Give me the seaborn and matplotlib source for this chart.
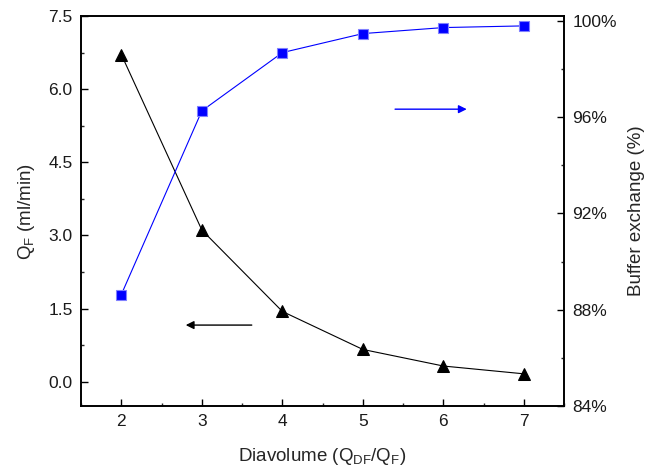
import matplotlib
matplotlib.use("Agg")
import matplotlib.pyplot as plt
import numpy as np
import pandas as pd
import seaborn as sns
from matplotlib.ticker import MultipleLocator, FormatStrFormatter, PercentFormatter

diavolume = [2, 3, 4, 5, 6, 7]
qf_values = [6.71, 3.11, 1.44, 0.66, 0.32, 0.16]
buffer_exchange = [88.63, 96.26, 98.68, 99.47, 99.72, 99.79]

df = pd.DataFrame({'diavolume': diavolume, 'qf': qf_values,
                   'exchange': buffer_exchange})

sns.set_style('ticks')
plt.rcParams['font.family'] = ['Liberation Sans', 'DejaVu Sans']
plt.rcParams['mathtext.fontset'] = 'custom'
plt.rcParams['mathtext.rm'] = 'Liberation Sans'
plt.rcParams['mathtext.default'] = 'rm'

fig = plt.figure(figsize=(6.7, 4.71), dpi=100)
ax = fig.add_axes([0.121, 0.138, 0.721, 0.828])
ax2 = ax.twinx()

sns.lineplot(data=df, x='diavolume', y='qf', ax=ax, color='black', lw=0.8,
             marker='^', markersize=9, markeredgecolor='black')
sns.lineplot(data=df, x='diavolume', y='exchange', ax=ax2, color='#0000ff',
             lw=0.8, marker='s', markersize=6.5, markeredgecolor='#8080ff',
             markeredgewidth=0.8)

ax.set_xlim(1.5, 7.5)
ax.set_ylim(-0.5, 7.5)
ax2.set_ylim(84, 100.2)

ax.xaxis.set_major_locator(MultipleLocator(1))
ax.xaxis.set_minor_locator(MultipleLocator(0.5))
ax.yaxis.set_major_locator(MultipleLocator(1.5))
ax.yaxis.set_minor_locator(MultipleLocator(0.75))
ax.yaxis.set_major_formatter(FormatStrFormatter('%.1f'))
ax2.yaxis.set_major_locator(MultipleLocator(4))
ax2.yaxis.set_minor_locator(MultipleLocator(2))
ax2.yaxis.set_major_formatter(PercentFormatter(xmax=100, decimals=0))

for a in (ax, ax2):
    a.tick_params(which='major', direction='in', length=5, width=1,
                  labelsize=12.5, color='black', labelcolor='#1a1a1a', pad=6)
    a.tick_params(which='minor', direction='in', length=2.5, width=1)
    for s in a.spines.values():
        s.set_linewidth(1.2)
        s.set_color('black')
ax.tick_params(axis='x', which='both', top=False)
ax2.tick_params(axis='y', which='both', left=False)

ax.set_xlabel('Diavolume (Q$_{DF}$/Q$_{F}$)', fontsize=13.5, labelpad=12)
ax.set_ylabel('Q$_{F}$ (ml/min)', fontsize=13.5, labelpad=8)
ax2.set_ylabel('Buffer exchange (%)', fontsize=13.5, labelpad=8)

ax.annotate('', xy=(2.8, 1.16), xytext=(3.62, 1.16),
            arrowprops=dict(arrowstyle='-|>', color='black', lw=1,
                            mutation_scale=12, shrinkA=0, shrinkB=0))
ax2.annotate('', xy=(6.29, 96.33), xytext=(5.4, 96.33),
             arrowprops=dict(arrowstyle='-|>', color='#0000ff', lw=1,
                             mutation_scale=12, shrinkA=0, shrinkB=0))

fig.savefig('out.png', dpi=100)
